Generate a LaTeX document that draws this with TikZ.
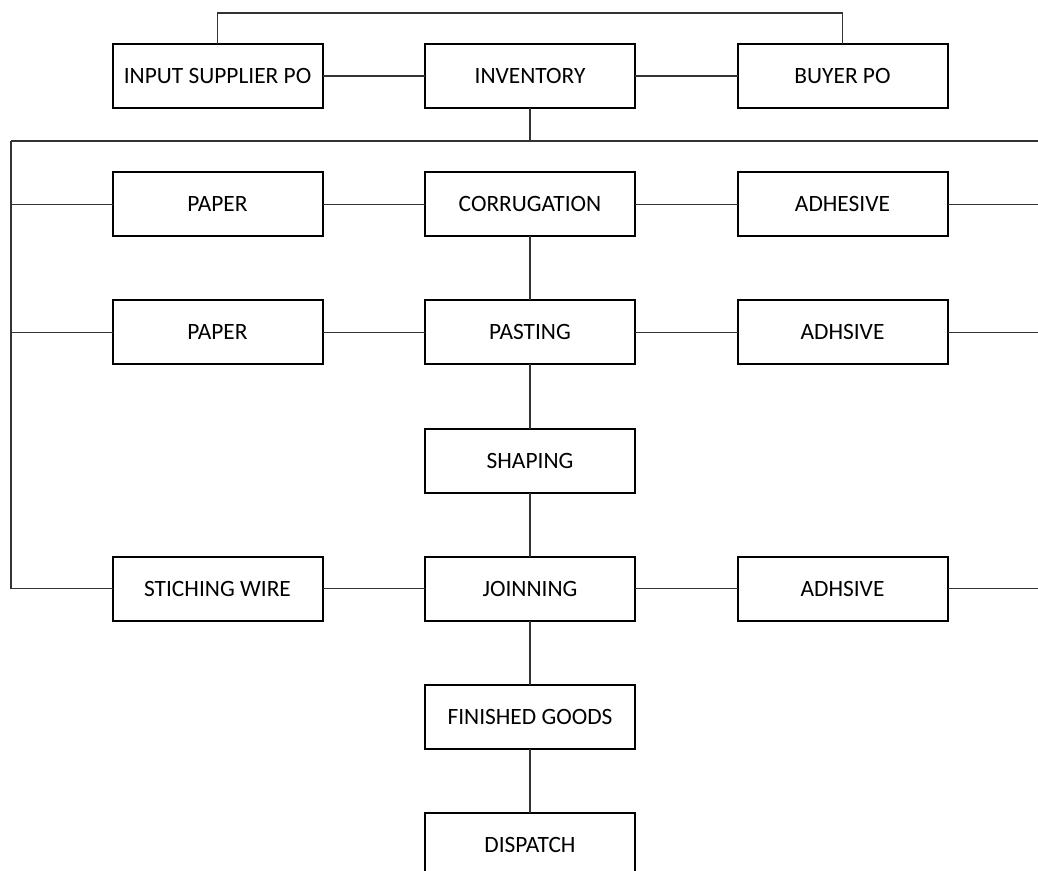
\documentclass[tikz,border=0pt]{standalone}
\usepackage{fontspec}
\setmainfont{Carlito}
\usetikzlibrary{positioning}
\tikzstyle{block} = [rectangle, minimum width=105pt, minimum height=32pt, inner sep=0pt, outer sep=0pt, text centered, draw=black, line width=1pt, fill=white, font=\fontsize{11.7}{13}\selectfont]
\tikzstyle{link} = [draw=black!80, line width=0.6pt]

\begin{document}
\begin{tikzpicture}[x=0.5pt, y=-0.5pt, node distance=32.1pt and 51.25pt]
\useasboundingbox (0,0) rectangle (1038,871);

% Top row
\node (INV) [block] at (530,76) {INVENTORY};
\node (ISP) [block, left=of INV] {INPUT SUPPLIER PO};
\node (BPO) [block, right=of INV] {BUYER PO};

% Main line
\node (COR) [block, below=of INV] {CORRUGATION};
\node (PAS) [block, below=of COR] {PASTING};
\node (SHA) [block, below=of PAS] {SHAPING};
\node (JOI) [block, below=of SHA] {JOINNING};
\node (FG) [block, below=of JOI] {FINISHED GOODS};
\node (DIS) [block, below=of FG] {DISPATCH};

% Inputs on the left
\node (P1) [block, left=of COR] {PAPER};
\node (P2) [block, left=of PAS] {PAPER};
\node (SW) [block, left=of JOI] {STICHING WIRE};

% Inputs on the right
\node (A1) [block, right=of COR] {ADHESIVE};
\node (A2) [block, right=of PAS] {ADHSIVE};
\node (A3) [block, right=of JOI] {ADHSIVE};

% Helper points
\coordinate (top) at (530,13);
\coordinate (bus) at (530,141);
\coordinate (lft) at (11,141);
\coordinate (rgt) at (1038,141);

% Connecting lines
\draw [link] (ISP.north) |- (top) -| (BPO.north);
\draw [link] (ISP) -- (INV);
\draw [link] (INV) -- (BPO);
\draw [link] (INV) -- (bus);
\draw [link] (lft) -- (rgt);
\draw [link] (lft) -- (lft |- SW.west);

\draw [link] (P1.west) -- (P1.west -| lft);
\draw [link] (P2.west) -- (P2.west -| lft);
\draw [link] (SW.west) -- (SW.west -| lft);
\draw [link] (A1.east) -- (A1.east -| rgt);
\draw [link] (A2.east) -- (A2.east -| rgt);
\draw [link] (A3.east) -- (A3.east -| rgt);

\draw [link] (P1) -- (COR);
\draw [link] (COR) -- (A1);
\draw [link] (P2) -- (PAS);
\draw [link] (PAS) -- (A2);
\draw [link] (SW) -- (JOI);
\draw [link] (JOI) -- (A3);

\draw [link] (COR) -- (PAS);
\draw [link] (PAS) -- (SHA);
\draw [link] (SHA) -- (JOI);
\draw [link] (JOI) -- (FG);
\draw [link] (FG) -- (DIS);

\end{tikzpicture}
\end{document}
